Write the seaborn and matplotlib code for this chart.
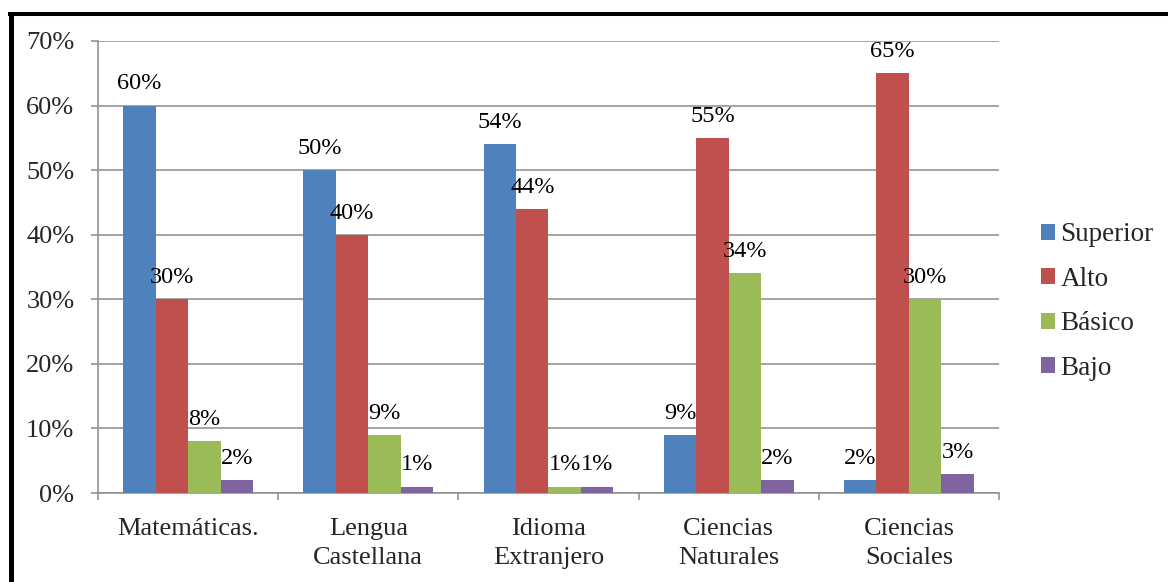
import matplotlib
matplotlib.use("Agg")
import matplotlib.pyplot as plt
from matplotlib.lines import Line2D
from matplotlib.patches import Patch
import numpy as np
import pandas as pd
import seaborn as sns

# Resultados por área y nivel de desempeño (%)
materias = ["Matemáticas.", "Lengua\nCastellana", "Idioma\nExtranjero",
            "Ciencias\nNaturales", "Ciencias\nSociales"]
niveles = ["Superior", "Alto", "Básico", "Bajo"]
superior = [60, 50, 54, 9, 2]
alto = [30, 40, 44, 55, 65]
basico = [8, 9, 1, 34, 30]
bajo = [2, 1, 1, 2, 3]
colores = ["#4F81BD", "#C0504D", "#9BBB59", "#8064A2"]
yticks = [0, 10, 20, 30, 40, 50, 60, 70]

df = pd.DataFrame({
    "materia": materias * 4,
    "nivel": np.repeat(niveles, len(materias)),
    "valor": superior + alto + basico + bajo,
})

sns.set_style("white")
plt.rcParams["font.family"] = ["Liberation Serif", "DejaVu Serif"]

fig = plt.figure(figsize=(11.68, 5.82), dpi=100)
ax = fig.add_axes([0.0839, 0.1529, 0.8553 - 0.0839, 0.9296 - 0.1529])

sns.barplot(data=df, x="materia", y="valor", hue="nivel", order=materias,
            hue_order=niveles, palette=colores, width=0.72, gap=0,
            saturation=1, linewidth=0, legend=False, ax=ax, zorder=3)

grid_c = "#8C8C8C"
ax.set_ylim(0, 70)
ax.set_xlim(-0.5, len(materias) - 0.5)
ax.set_yticks(yticks)
ax.set_yticklabels([f"{t}%" for t in yticks])
ax.yaxis.grid(True, color=grid_c, linewidth=1.1, zorder=0)
ax.set_axisbelow(True)
ax.set_xlabel("")
ax.set_ylabel("")

for s in ["top", "right"]:
    ax.spines[s].set_visible(False)
for s in ["left", "bottom"]:
    ax.spines[s].set_color(grid_c)
    ax.spines[s].set_linewidth(1.1)

# category boundaries get the tick marks, labels sit in the middle
ax.set_xticks(np.arange(-0.5, len(materias)), minor=True)
ax.tick_params(axis="x", which="minor", length=5, width=1.1, color=grid_c,
               direction="out", bottom=True)
ax.tick_params(axis="x", which="major", length=0, pad=18, labelsize=19)
ax.tick_params(axis="y", which="major", length=5, width=1.1, color=grid_c,
               direction="out", pad=12, labelsize=19, left=True)
for lbl in ax.get_xticklabels():
    lbl.set_linespacing(1.4)

for cont in ax.containers:
    ax.bar_label(cont, fmt="%g%%", padding=8, fontsize=17.5, color="black")

handles = [Patch(facecolor=c, edgecolor="none", label=n)
           for c, n in zip(colores, niveles)]
fig.legend(handles=handles, loc="center left",
           bbox_to_anchor=(0.8913, 0.482), frameon=False, fontsize=19.5,
           handlelength=0.52, handleheight=0.52, handletextpad=0.2,
           labelspacing=0.72, borderpad=0, borderaxespad=0)

# black frame on the top and left edges
fig.add_artist(Line2D([10.5 / 1168, 10.5 / 1168], [0, 1 - 12 / 582],
                      color="black", linewidth=3.6, solid_capstyle="butt"))
fig.add_artist(Line2D([8 / 1168, 1], [1 - 13.7 / 582, 1 - 13.7 / 582],
                      color="black", linewidth=2.9, solid_capstyle="butt"))

fig.savefig("out.png", dpi=100, facecolor="white")
